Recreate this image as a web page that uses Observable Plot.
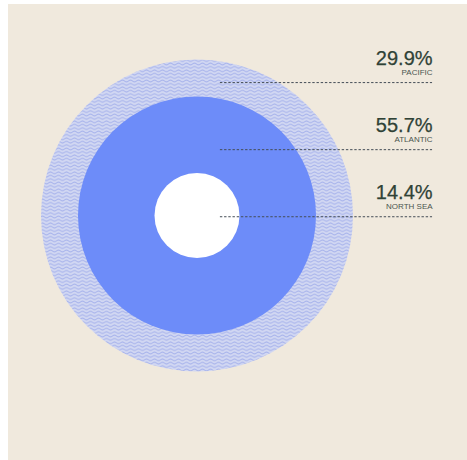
<!DOCTYPE html>
<html><head><meta charset="utf-8">
<script src="https://cdn.jsdelivr.net/npm/d3@7"></script>
<script src="https://cdn.jsdelivr.net/npm/@observablehq/plot@0.6"></script>
<style>
html,body{margin:0;padding:0;background:#ffffff;}
#chart{position:absolute;left:8px;top:4px;}
</style></head><body><div id="chart"></div>
<script>
// Data (outermost ring first, as listed top-to-bottom in the labels)
const regions = ["Pacific", "Atlantic", "North Sea"];
const shares = [29.9, 55.7, 14.4];
const shareLabels = ["29.9%", "55.7%", "14.4%"];
const regionLabels = ["PACIFIC", "ATLANTIC", "NORTH SEA"];
const labelSlots = [2, 1, 0]; // label rows counted upward from the centre

// styles (kept separate from data)
const ringFill = {"Pacific": "url(#waves)", "Atlantic": "#6d8cf9", "North Sea": "#ffffff"};
const ink = "#2f4236";

// build rings from the inside out: cumulative share gives each ring's outer edge
const order = regions.map((r, i) => i).sort((a, b) => labelSlots[a] - labelSlots[b]);
let run = 0;
const rings = order.map(i => {
  run += shares[i];
  return {region: regions[i], share: shares[i], cum: +run.toFixed(1), label: shareLabels[i], name: regionLabels[i], slot: labelSlots[i]};
});
const cumDomain = [0, ...rings.map(d => d.cum)];
const slotStep = 0.43;
const rowY = d => 0.008 - d.slot * slotStep;

const plot = Plot.plot({
  width: 459,
  height: 456,
  x: {domain: [-1, 1], range: [32.5, 344.5], axis: null},
  y: {domain: [-1, 1], range: [55, 367], axis: null},
  r: {type: "linear", domain: cumDomain, range: [0, 42.5, 119, 156]},
  style: {background: "#f0e9dd", overflow: "visible"},
  marks: [
    Plot.dot(rings, {x: 0, y: 0, r: "cum", fill: d => ringFill[d.region], stroke: "none", sort: {channel: "-r"}}),
    Plot.ruleY(rings, {y: rowY, x1: 0.15, x2: 1.51, stroke: "#444d56", strokeWidth: 1, strokeDasharray: "2.4,1.8"}),
    Plot.text(rings, {x: 1.51, y: rowY, text: "label", textAnchor: "end", lineAnchor: "bottom", dy: -18, fontSize: 20, fontFamily: "Liberation Sans, Arial, sans-serif", fill: ink, stroke: ink, strokeWidth: 0.25}),
    Plot.text(rings, {x: 1.51, y: rowY, text: "name", textAnchor: "end", lineAnchor: "bottom", dy: -7.5, fontSize: 8, fontFamily: "Liberation Sans, Arial, sans-serif", fill: "#4a554f"})
  ]
});

d3.select(plot).insert("defs", ":first-child").html(
  `<pattern id="waves" patternUnits="userSpaceOnUse" width="8" height="3.4">
     <rect width="8" height="3.4" fill="#d1d7f2"></rect>
     <path d="M0,1.7 C1.3,0.5 2.7,0.5 4,1.7 S6.7,2.9 8,1.7" stroke="#97a5e8" stroke-width="0.85" fill="none"></path>
   </pattern>`
);
document.getElementById("chart").appendChild(plot);
</script>
</body></html>
